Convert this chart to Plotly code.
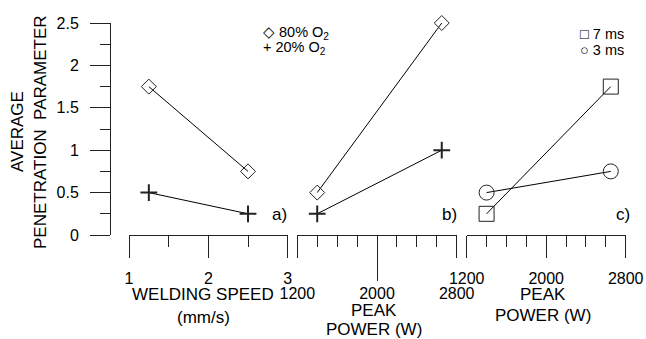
import plotly.graph_objects as go

# ---- data ----
speed = [1.25, 2.5]                 # welding speed (mm/s), panel a
a_80 = [1.75, 0.75]
a_20 = [0.5, 0.25]

power_b = [1400, 2650]              # peak power (W), panel b
b_80 = [0.5, 2.5]
b_20 = [0.25, 1.0]

power_c = [1400, 2650]              # peak power (W), panel c
c_7ms = [0.25, 1.75]
c_3ms = [0.5, 0.75]

W, H = 646, 339
FONT = "Liberation Sans, Arial, sans-serif"
INK = "#222222"

def px(x):
    return x / W

def py(y):
    return (H - y) / H

fig = go.Figure()

def add(xs, ys, xa, symbol, size, lw):
    fig.add_trace(go.Scatter(
        x=xs, y=ys, xaxis=xa, yaxis="y", mode="lines+markers",
        line=dict(color="black", width=1),
        marker=dict(symbol=symbol, size=size, color=INK,
                    line=dict(color=INK, width=lw)),
        cliponaxis=False, showlegend=False))

add(speed, a_80, "x", "diamond-open", 11.5, 1)
add(speed, a_20, "x", "cross-thin-open", 12, 2)
add(power_b, b_80, "x2", "diamond-open", 11.5, 1)
add(power_b, b_20, "x2", "cross-thin-open", 12, 2)
add(power_c, c_7ms, "x3", "square-open", 15, 1)
add(power_c, c_3ms, "x3", "circle-open", 15, 1)

tickfont = dict(family=FONT, size=16, color="black")

def xaxis(domain, rng, dtick, mdtick, standoff):
    return dict(domain=domain, range=rng, anchor="y", showgrid=False,
                zeroline=False, showline=True, linecolor=INK, linewidth=1,
                ticks="outside", ticklen=22, tickwidth=1, tickcolor=INK,
                dtick=dtick, tick0=rng[0], tickfont=tickfont,
                ticklabelstandoff=standoff, automargin=False,
                minor=dict(dtick=mdtick, ticks="outside", ticklen=11,
                           tickcolor=INK, tickwidth=1, showgrid=False))

fig.update_layout(
    template="none",
    width=W, height=H, autosize=False,
    margin=dict(l=0, r=0, t=0, b=0, pad=0, autoexpand=False),
    paper_bgcolor="white", plot_bgcolor="white",
    font=dict(family=FONT, color="black"),
    showlegend=False,
    yaxis=dict(domain=[py(235), py(23)], range=[0, 2.5], anchor="free",
               position=px(110), showgrid=False, zeroline=False,
               showline=True, linecolor=INK, linewidth=1, automargin=False,
               ticks="outside", ticklen=20, tickcolor=INK, dtick=0.5,
               tickfont=tickfont, ticklabelstandoff=8,
               minor=dict(dtick=0.25, ticks="outside", ticklen=10,
                          tickcolor=INK, showgrid=False)),
    xaxis=xaxis([px(129), px(287.7)], [1, 3], 1, 0.5, 7),
    xaxis2=xaxis([px(297.3), px(456.7)], [1200, 2800], 800, 200, 22),
    xaxis3=xaxis([px(466.7), px(625.7)], [1200, 2800], 800, 200, 7),
    # long centre tick on panel b
    xaxis4=dict(domain=[px(297.3), px(456.7)], range=[1200, 2800],
                anchor="y", overlaying="x2", showgrid=False, zeroline=False,
                showline=False, ticks="outside", ticklen=45, automargin=False,
                tickcolor=INK, tickvals=[2000], showticklabels=False),
)

# dummy trace so xaxis4 is drawn
fig.add_trace(go.Scatter(x=[2000], y=[None], xaxis="x4", yaxis="y",
                         mode="markers", showlegend=False, hoverinfo="skip"))

ann = []
def text(x, y, s, size=17, xanchor="center", angle=0):
    ann.append(dict(x=px(x), y=py(y), xref="paper", yref="paper", text=s,
                    showarrow=False, xanchor=xanchor, yanchor="middle",
                    textangle=angle,
                    font=dict(family=FONT, size=size, color="black")))

# y title
text(17, 132, "AVERAGE", angle=-90)
text(40, 132, "PENETRATION\u00a0 PARAMETER", angle=-90)
# x titles
text(203, 294, "WELDING SPEED")
text(203, 317, "(mm/s)")
text(374, 310, "PEAK")
text(374, 329, "POWER (W)")
text(543, 294, "PEAK")
text(543, 315, "POWER (W)")
# panel labels
text(279, 214, "a)")
text(449, 214, "b)")
text(623, 214, "c)")
# legends
text(261, 33, "\u25c7 80% O<sub>2</sub>", size=14.5, xanchor="left")
text(261, 48, "+ 20% O<sub>2</sub>", size=14.5, xanchor="left")
text(578, 34, "\u25a1 7 ms", size=14.5, xanchor="left")
text(578, 50, "\u25cb 3 ms", size=14.5, xanchor="left")

fig.update_layout(annotations=ann)

fig.write_html("out.html")
